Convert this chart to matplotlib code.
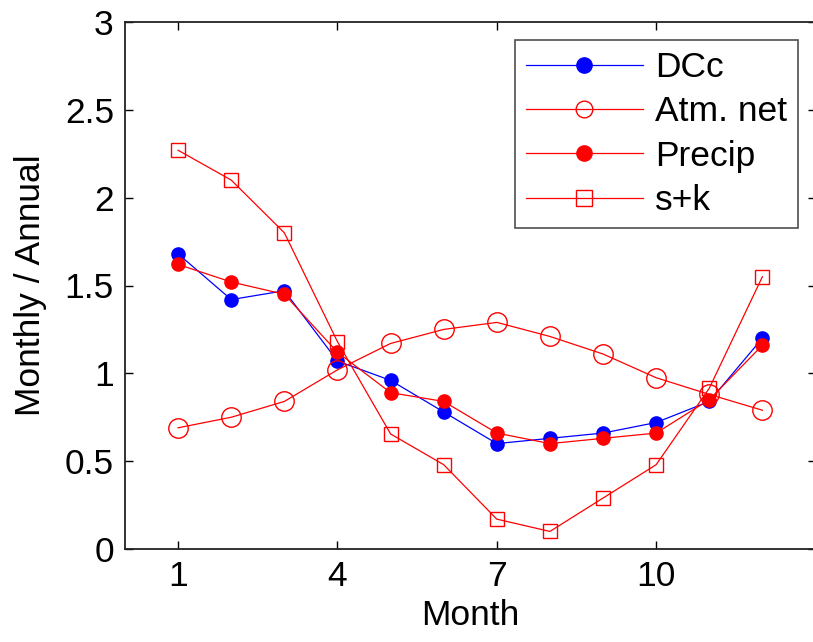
import matplotlib
matplotlib.use("Agg")
import matplotlib.pyplot as plt

plt.rcParams['font.family'] = ['Liberation Sans', 'DejaVu Sans']

months = [1, 2, 3, 4, 5, 6, 7, 8, 9, 10, 11, 12]
dcc = [1.68, 1.42, 1.47, 1.07, 0.96, 0.78, 0.60, 0.63, 0.66, 0.72, 0.84, 1.20]
atm_net = [0.69, 0.75, 0.84, 1.02, 1.17, 1.25, 1.29, 1.21, 1.11, 0.975, 0.88, 0.79]
precip = [1.62, 1.52, 1.45, 1.12, 0.89, 0.84, 0.66, 0.60, 0.63, 0.66, 0.85, 1.16]
sk = [2.27, 2.10, 1.80, 1.18, 0.655, 0.48, 0.17, 0.10, 0.29, 0.48, 0.915, 1.55]

xticks = [1, 4, 7, 10]
yticks = [0, 0.5, 1, 1.5, 2, 2.5, 3]
ytick_labels = ['0', '0.5', '1', '1.5', '2', '2.5', '3']

fs = 25.5
fig = plt.figure(figsize=(8.13, 6.42), dpi=100)
ax = fig.add_axes([125/813, 93/642, 690.5/813, 527/642])

lw = 0.9
ax.plot(months, dcc, color='blue', lw=lw, marker='o', ms=9.5, mfc='blue', mec='blue', label='DCc')
ax.plot(months, atm_net, color='red', lw=lw, marker='o', ms=14, mfc='none', mec='red', mew=1.0, label='Atm. net')
ax.plot(months, precip, color='red', lw=lw, marker='o', ms=9.5, mfc='red', mec='red', label='Precip')
ax.plot(months, sk, color='red', lw=lw, marker='s', ms=10.5, mfc='none', mec='red', mew=1.0, label='s+k')

ax.set_xlim(0, 13)
ax.set_ylim(0, 3)
ax.set_xticks(xticks)
ax.set_xticklabels([str(t) for t in xticks])
ax.set_yticks(yticks)
ax.set_yticklabels(ytick_labels)
ax.tick_params(direction='in', top=True, right=True, length=6, width=1.0,
               labelsize=fs, pad=8, colors='black')
for s in ax.spines.values():
    s.set_linewidth(1.3)
    s.set_color('#222222')

ax.set_xlabel('Month', fontsize=fs, labelpad=4)
ax.set_ylabel('Monthly / Annual', fontsize=fs, labelpad=13)

leg = ax.legend(loc='upper right', bbox_to_anchor=((797.7-125)/690.5, (549-40.3)/527),
                fontsize=fs, frameon=True, fancybox=False, edgecolor='#222222',
                handlelength=3.3, handletextpad=0.34, labelspacing=0.32,
                borderpad=0.3, borderaxespad=0, markerscale=1.0)
leg.get_frame().set_linewidth(1.2)
for h, ms in zip(leg.legend_handles, [11, 12, 11, 11]):
    h.set_markersize(ms)

fig.savefig('out.png', dpi=100)
